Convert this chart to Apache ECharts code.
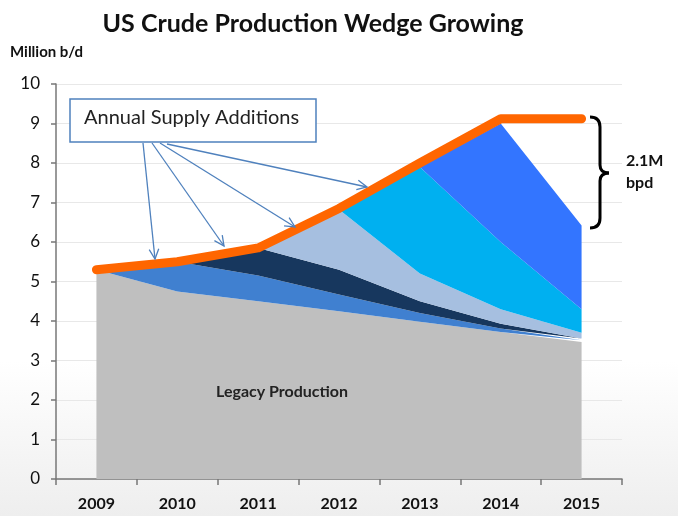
<!DOCTYPE html>
<html>
<head>
<meta charset="utf-8">
<style>
  html, body { margin: 0; padding: 0; background: #fff; }
  #main { width: 678px; height: 516px; }
</style>
<script src="https://cdn.jsdelivr.net/npm/echarts@6/dist/echarts.min.js"></script>
</head>
<body>
<div id="main"></div>
<script>
// values (million b/d)
const years = ['2009', '2010', '2011', '2012', '2013', '2014', '2015'];
const legacy = [5.3, 4.75, 4.5, 4.25, 3.98, 3.72, 3.47];
const add2010 = [0, 0.75, 0.65, 0.42, 0.22, 0.09, 0.04];
const add2011 = [0, 0, 0.7, 0.63, 0.3, 0.12, 0.05];
const add2012 = [0, 0, 0, 1.52, 0.7, 0.37, 0.14];
const add2013 = [0, 0, 0, 0, 2.7, 1.7, 0.6];
const add2014 = [0, 0, 0, 0, 0, 3.0, 2.12];
const total = [5.3, 5.5, 5.85, 6.85, 8.0, 9.12, 9.12];

const font = 'Lato, "Open Sans", sans-serif';

const chart = echarts.init(document.getElementById('main'));

function wedge(name, data, color) {
    return {
        name: name,
        type: 'line',
        stack: 'prod',
        data: data,
        showSymbol: false,
        lineStyle: { width: 0 },
        areaStyle: { color: color, opacity: 1 },
        z: 2
    };
}

// arrows from the label box to the line
const arrows = [
    [[143, 143], [155, 259]],
    [[152, 143], [224, 246]],
    [[160, 143], [295, 227]],
    [[167, 144], [367, 187]]
];

function arrowHead(from, to) {
    const a = Math.atan2(to[1] - from[1], to[0] - from[0]);
    const len = 11, spread = 0.45;
    return [
        [to[0] - len * Math.cos(a - spread), to[1] - len * Math.sin(a - spread)],
        to,
        [to[0] - len * Math.cos(a + spread), to[1] - len * Math.sin(a + spread)]
    ];
}

const arrowStyle = { stroke: '#4F81BD', lineWidth: 1.3, fill: null };
const graphics = [];
arrows.forEach(function (ar) {
    graphics.push({ type: 'line', shape: { x1: ar[0][0], y1: ar[0][1], x2: ar[1][0], y2: ar[1][1] }, style: arrowStyle, z: 20 });
    graphics.push({ type: 'polyline', shape: { points: arrowHead(ar[0], ar[1]) }, style: arrowStyle, z: 20 });
});

// curly bracket next to 2015
const bk = { stroke: '#000', lineWidth: 3, fill: null };
graphics.push(
    { type: 'bezierCurve', shape: { x1: 590, y1: 117, cpx1: 600, cpy1: 117, x2: 600, y2: 127 }, style: bk, z: 20 },
    { type: 'line', shape: { x1: 600, y1: 127, x2: 600, y2: 165 }, style: bk, z: 20 },
    { type: 'bezierCurve', shape: { x1: 600, y1: 165, cpx1: 600, cpy1: 173, x2: 609, y2: 173 }, style: bk, z: 20 },
    { type: 'bezierCurve', shape: { x1: 609, y1: 173, cpx1: 600, cpy1: 173, x2: 600, y2: 181 }, style: bk, z: 20 },
    { type: 'line', shape: { x1: 600, y1: 181, x2: 600, y2: 218 }, style: bk, z: 20 },
    { type: 'bezierCurve', shape: { x1: 600, y1: 218, cpx1: 600, cpy1: 228, x2: 590, y2: 228 }, style: bk, z: 20 }
);

graphics.push(
    { type: 'rect', shape: { x: 70, y: 99, width: 246, height: 43 },
      style: { fill: '#fff', stroke: '#4F81BD', lineWidth: 1.5 }, z: 21 },
    { type: 'text', x: 84, y: 108, z: 22,
      style: { text: 'Annual Supply Additions', font: '20px ' + font, fill: '#222' } },
    { type: 'text', x: 626, y: 150, z: 20,
      style: { text: '2.1M\nbpd', font: 'bold 16px ' + font, fill: '#111', lineHeight: 22 } },
    { type: 'text', x: 216, y: 384, z: 20,
      style: { text: 'Legacy Production', font: 'bold 16px ' + font, fill: '#222' } },
    { type: 'text', x: 10, y: 45, z: 20,
      style: { text: 'Million b/d', font: 'bold 15px ' + font, fill: '#111' } }
);

const option = {
    backgroundColor: {
        type: 'linear', x: 0, y: 0, x2: 0, y2: 1,
        colorStops: [
            { offset: 0, color: '#ffffff' },
            { offset: 0.7, color: '#ffffff' },
            { offset: 1, color: '#eeeeee' }
        ]
    },
    animation: false,
    title: {
        text: 'US Crude Production Wedge Growing',
        left: 308,
        textAlign: 'center',
        top: 6,
        textStyle: { fontFamily: font, fontWeight: 'bold', fontSize: 25, color: '#111' }
    },
    grid: { left: 56, right: 56, top: 84, bottom: 37, containLabel: false },
    xAxis: {
        type: 'category',
        data: years,
        boundaryGap: true,
        axisLine: { lineStyle: { color: '#777', width: 1.5 } },
        axisTick: { show: true, length: 6, lineStyle: { color: '#777', width: 1.5 } },
        axisLabel: { fontFamily: font, fontWeight: 'bold', fontSize: 16, color: '#111', margin: 17 }
    },
    yAxis: {
        type: 'value',
        min: 0,
        max: 10,
        interval: 1,
        axisLine: { show: true, lineStyle: { color: '#777', width: 1.5 } },
        axisTick: { show: true, length: 5, lineStyle: { color: '#777', width: 1.5 } },
        axisLabel: { fontFamily: font, fontSize: 17, color: '#111', margin: 16 },
        splitLine: { lineStyle: { color: '#e8e8e8', width: 1 } }
    },
    series: [
        wedge('Legacy Production', legacy, '#BFBFBF'),
        wedge('2010', add2010, '#4080D0'),
        wedge('2011', add2011, '#17375E'),
        wedge('2012', add2012, '#A6BFE0'),
        wedge('2013', add2013, '#00B0F0'),
        wedge('2014', add2014, '#3375FF'),
        {
            name: 'Total',
            type: 'line',
            data: total,
            showSymbol: false,
            lineStyle: { color: '#FF6600', width: 9, cap: 'round', join: 'round' },
            z: 5
        }
    ],
    graphic: graphics
};

chart.setOption(option);
</script>
</body>
</html>
